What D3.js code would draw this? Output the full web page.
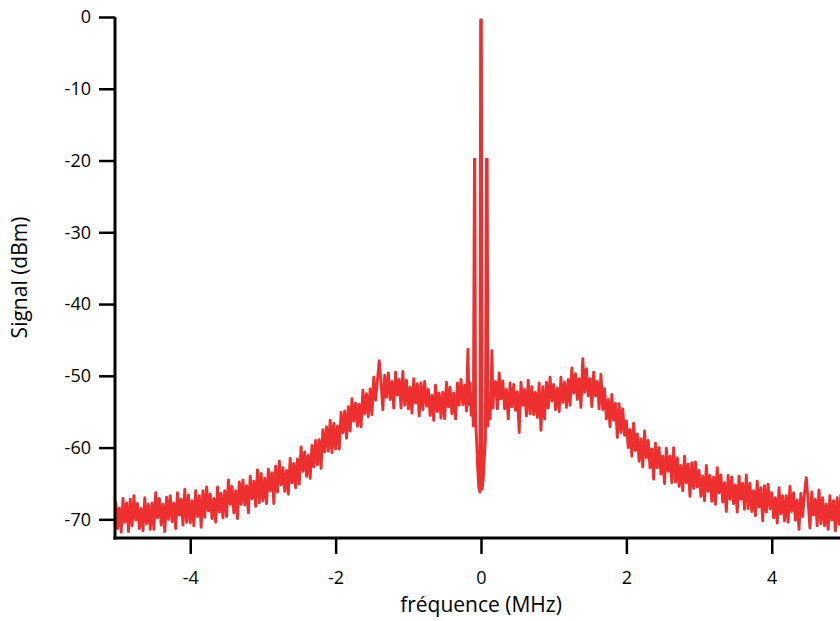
<!DOCTYPE html>
<html>
<head>
<meta charset="utf-8">
<script src="https://cdn.jsdelivr.net/npm/d3@7"></script>
<style>
  html, body { margin: 0; padding: 0; background: #fff; }
  svg { display: block; }
  text { font-family: "Open Sans", "DejaVu Sans", sans-serif; }
</style>
</head>
<body>
<svg id="chart" width="840" height="621"></svg>
<script>
// ---------- data ----------
const xTicks = [-4, -2, 0, 2, 4];
const yTicks = [0, -10, -20, -30, -40, -50, -60, -70];
const xLabel = "fréquence (MHz)";
const yLabel = "Signal (dBm)";

// left noise band: frequencies from -5.025 MHz in 0.025 MHz steps
const freqStep = 0.025;
const leftStart = -5.025;
const leftSignal = [
  -67.5, -71.3, -68.4, -71.8, -67.1, -70.4, -67.7, -71.7, -67.2, -70.9,
  -66.7, -70.1, -67.8, -71.3, -68.5, -71.6, -67.0, -70.6, -67.9, -71.4,
  -67.7, -71.4, -66.3, -69.8, -67.1, -70.8, -67.9, -71.7, -66.9, -70.0,
  -66.7, -70.3, -67.7, -71.3, -66.3, -69.4, -67.2, -70.8, -65.8, -70.4,
  -66.6, -70.5, -67.4, -70.9, -66.0, -69.6, -66.7, -71.1, -66.0, -69.7,
  -65.5, -68.8, -66.5, -69.9, -67.1, -70.4, -65.5, -69.0, -66.4, -69.8,
  -66.0, -69.6, -64.5, -67.9, -65.4, -69.1, -66.0, -69.9, -64.8, -67.9,
  -64.5, -68.0, -65.3, -69.1, -64.0, -67.1, -64.7, -68.2, -63.1, -67.7,
  -63.6, -67.4, -64.3, -67.8, -63.0, -66.0, -63.5, -67.8, -62.6, -66.2,
  -61.9, -65.2, -62.8, -66.1, -63.2, -66.5, -61.5, -64.9, -62.2, -65.6,
  -61.6, -65.1, -59.9, -63.3, -60.6, -64.0, -61.1, -64.3, -59.7, -62.7,
  -59.0, -62.4, -58.9, -62.9, -57.5, -60.6, -57.1, -60.5, -56.2, -60.7,
  -56.6, -60.2, -57.0, -60.2, -55.1, -57.9, -54.9, -58.7, -54.3, -57.7,
  -53.2, -56.3, -53.8, -57.0, -54.0, -57.1, -52.0, -55.3, -52.5, -55.7,
  -51.8, -55.4, -50.2, -53.4, -50.7, -47.9, -51.0, -54.7, -49.9, -53.0,
  -49.6, -53.3, -50.8, -54.5, -49.5, -52.7, -50.5, -54.5, -49.4, -54.1,
  -50.6, -54.6, -51.6, -55.2, -50.4, -53.8, -51.1, -55.6, -51.0, -54.7,
  -50.8, -54.2, -51.9, -55.5, -52.7, -56.2, -51.3, -55.0, -52.4, -55.9,
  -52.3, -56.0, -50.9, -54.3, -51.6, -55.3, -52.4, -56.0, -51.0, -54.1,
  -50.5, -54.0, -51.3, -54.9
];

// carrier and sidebands around 0 MHz
const coreFreq = [-0.18, -0.165, -0.15, -0.135, -0.12, -0.105, -0.09, -0.085, -0.075, -0.06,
  -0.045, -0.03, -0.015, -0.005, 0.005, 0.015, 0.03, 0.045, 0.06, 0.075,
  0.085, 0.095, 0.11, 0.125, 0.14, 0.15, 0.165, 0.18];
const coreSignal = [-46.3, -54.0, -51.0, -55.5, -52.5, -57.0, -19.8, -19.8, -56.0, -59.0,
  -63.0, -65.5, -66.2, -0.4, -0.4, -65.8, -64.5, -61.5, -59.0, -19.8,
  -19.8, -57.0, -53.0, -56.0, -51.5, -46.5, -54.5, -51.0];

// right noise band: frequencies from 0.2 MHz in 0.025 MHz steps
const rightStart = 0.2;
const rightSignal = [
  -50.8, -54.6, -49.6, -53.2, -50.7, -54.6, -51.9, -56.0, -51.0, -54.3,
  -51.2, -54.8, -52.2, -57.9, -50.9, -54.1, -51.9, -55.6, -50.6, -55.3,
  -51.5, -55.4, -52.3, -55.8, -51.0, -57.6, -51.5, -56.0, -50.9, -54.5,
  -50.2, -53.5, -51.2, -54.7, -51.7, -55.0, -50.2, -53.7, -50.9, -54.4,
  -50.5, -54.1, -48.9, -52.4, -49.7, -53.3, -50.4, -54.4, -47.6, -52.3,
  -49.0, -52.8, -50.4, -54.3, -49.5, -52.8, -50.8, -54.6, -49.8, -54.7,
  -51.8, -56.0, -53.3, -57.1, -52.6, -56.2, -53.8, -58.6, -53.9, -57.9,
  -54.6, -58.3, -56.3, -60.0, -57.5, -61.2, -56.6, -60.4, -58.1, -61.9,
  -58.8, -62.7, -57.7, -61.4, -59.0, -62.8, -60.2, -64.4, -59.4, -62.8,
  -60.0, -63.7, -61.2, -65.0, -60.1, -63.3, -61.2, -64.9, -60.0, -64.8,
  -61.4, -65.4, -62.5, -66.0, -61.2, -64.9, -62.3, -66.8, -62.1, -65.7,
  -62.0, -65.5, -63.2, -66.8, -64.0, -67.4, -62.5, -66.1, -63.9, -67.5,
  -64.1, -67.9, -62.8, -66.3, -63.8, -67.6, -64.9, -68.9, -63.9, -67.2,
  -64.1, -67.8, -65.2, -69.0, -64.0, -67.2, -65.0, -68.6, -63.8, -68.5,
  -65.0, -68.9, -66.0, -69.5, -64.7, -68.3, -65.6, -70.2, -65.3, -69.0,
  -65.1, -68.5, -66.3, -69.8, -67.0, -70.5, -65.6, -69.2, -66.7, -70.2,
  -66.7, -70.4, -65.4, -68.9, -66.3, -70.1, -67.3, -71.4, -66.4, -69.6,
  -66.4, -64.2, -67.4, -71.2, -66.2, -69.4, -67.2, -70.9, -65.9, -70.6,
  -67.0, -70.9, -67.9, -71.4, -66.7, -70.1, -67.4, -71.6, -67.0, -70.7,
  -66.6, -70.0, -67.7, -71.2
];

// ---------- build points ----------
const points = [];
leftSignal.forEach((v, i) => points.push([leftStart + i * freqStep, v]));
coreSignal.forEach((v, i) => points.push([coreFreq[i], v]));
rightSignal.forEach((v, i) => points.push([rightStart + i * freqStep, v]));

// ---------- layout ----------
const svg = d3.select("#chart");
const mLeft = 115, mRight = 847, mTop = 17, mBottom = 538;

const x = d3.scaleLinear().domain([-5.035, 5.035]).range([mLeft, mRight]);
const y = d3.scaleLinear().domain([-72.6, 0]).range([mBottom, mTop]);

svg.append("defs").append("clipPath").attr("id", "plotclip")
  .append("rect").attr("x", mLeft + 1).attr("y", 0).attr("width", 840 - mLeft).attr("height", mBottom - 1);

// data line
svg.append("g").attr("clip-path", "url(#plotclip)")
  .append("path")
  .datum(points)
  .attr("fill", "none")
  .attr("stroke", "#ee2f2f")
  .attr("stroke-width", 2.9)
  .attr("stroke-linejoin", "round")
  .attr("d", d3.line().x(d => x(d[0])).y(d => y(d[1])));

// axes
const tickFont = 18, titleFont = 21;
const xAxis = svg.append("g")
  .attr("transform", `translate(0,${mBottom})`)
  .call(d3.axisBottom(x).tickValues(xTicks).tickFormat(d => String(d))
    .tickSizeInner(16).tickSizeOuter(0).tickPadding(17));
const yAxis = svg.append("g")
  .attr("transform", `translate(${mLeft},0)`)
  .call(d3.axisLeft(y).tickValues(yTicks).tickFormat(d => String(d))
    .tickSizeInner(16).tickSizeOuter(0).tickPadding(8));

[xAxis, yAxis].forEach(g => {
  g.select(".domain").attr("stroke", "#000").attr("stroke-width", 3);
  g.selectAll(".tick line").attr("stroke", "#000").attr("stroke-width", 2.5);
  g.selectAll(".tick text").attr("fill", "#000")
    .style("font-family", '"Open Sans", "DejaVu Sans", sans-serif')
    .style("font-size", tickFont + "px");
});
// make axis lines meet at the corner
xAxis.select(".domain").attr("d", `M${mLeft - 1.5},0H840`);
yAxis.select(".domain").attr("d", `M0,${mTop}V${mBottom + 1.5}`);

// axis titles
svg.append("text")
  .attr("x", 481).attr("y", 612)
  .attr("text-anchor", "middle")
  .style("font-size", titleFont + "px")
  .attr("fill", "#000")
  .text(xLabel);

svg.append("text")
  .attr("transform", `translate(27,${(mTop + mBottom) / 2}) rotate(-90)`)
  .attr("text-anchor", "middle")
  .style("font-size", titleFont + "px")
  .attr("fill", "#000")
  .text(yLabel);
</script>
</body>
</html>
